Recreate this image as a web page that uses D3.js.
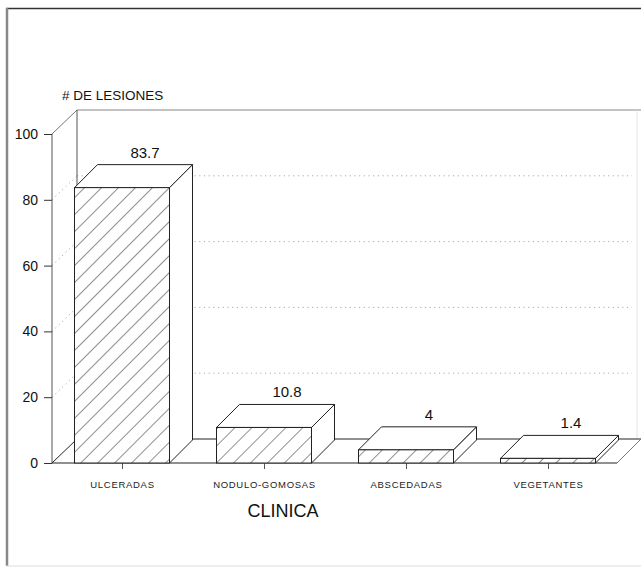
<!DOCTYPE html>
<html>
<head>
<meta charset="utf-8">
<script src="https://cdn.jsdelivr.net/npm/d3@7/dist/d3.min.js"></script>
<style>
  html, body { margin: 0; padding: 0; background: #fff; }
  svg { display: block; font-family: "Liberation Sans", Arial, Helvetica, sans-serif; }
</style>
</head>
<body>
<svg id="chart" width="641" height="569"></svg>
<script>
// Lesion counts by clinical form
const categories = ["ULCERADAS", "NODULO-GOMOSAS", "ABSCEDADAS", "VEGETANTES"];
const values = [83.7, 10.8, 4, 1.4];
const yTicks = [0, 20, 40, 60, 80, 100];
const gridTicks = [20, 40, 60, 80];
const yTitle = "# DE LESIONES";
const xTitle = "CLINICA";

const svg = d3.select("#chart");

// Outer frame
svg.append("line").attr("x1", 6).attr("x2", 641).attr("y1", 8.5).attr("y2", 8.5)
  .attr("stroke", "#333").attr("stroke-width", 1.5);
svg.append("line").attr("x1", 7).attr("x2", 7).attr("y1", 8).attr("y2", 566)
  .attr("stroke", "#888").attr("stroke-width", 2.5);
svg.append("line").attr("x1", 6).attr("x2", 641).attr("y1", 566).attr("y2", 566)
  .attr("stroke", "#ddd").attr("stroke-width", 1);

// Scales
const x = d3.scalePoint().domain(categories).range([122, 548]);
const y = d3.scaleLinear().domain([0, 100]).range([463, 134]);

const axisX = 52;          // front edge of the left wall
const wallDx = 25, wallDy = 24;   // depth of walls
const barDx = 23, barDy = 23;     // depth of bars
const barW = 95;
const rightFront = 617, rightBack = 641;

const edge = "#222";

// Hatch pattern for bar fronts
const defs = svg.append("defs");
defs.append("pattern")
  .attr("id", "hatch")
  .attr("patternUnits", "userSpaceOnUse")
  .attr("width", 12).attr("height", 12)
  .attr("patternTransform", "rotate(45)")
  .append("line")
  .attr("x1", 0).attr("y1", 0).attr("x2", 0).attr("y2", 12)
  .attr("stroke", "#333").attr("stroke-width", 1.1);

const walls = svg.append("g");

// Back wall top edge and right edge
walls.append("line")
  .attr("x1", axisX + wallDx).attr("x2", rightBack)
  .attr("y1", y(100) - wallDy).attr("y2", y(100) - wallDy)
  .attr("stroke", "#888").attr("stroke-width", 1.2);
walls.append("line")
  .attr("x1", 637).attr("x2", 637)
  .attr("y1", y(100) - wallDy).attr("y2", y(0) - wallDy)
  .attr("stroke", "#e4e4e4").attr("stroke-width", 1);

// Dotted gridlines on the back wall and the left wall
const grid = walls.append("g")
  .attr("stroke", "#aaa").attr("stroke-width", 1).attr("stroke-dasharray", "1.2,3.5");
grid.selectAll("line.back").data(gridTicks).join("line")
  .attr("class", "back")
  .attr("x1", axisX + wallDx).attr("x2", 632)
  .attr("y1", d => y(d) - wallDy).attr("y2", d => y(d) - wallDy);
grid.selectAll("line.side").data(gridTicks).join("line")
  .attr("class", "side")
  .attr("x1", axisX).attr("x2", axisX + wallDx)
  .attr("y1", d => y(d)).attr("y2", d => y(d) - wallDy);

// Left wall edges
walls.append("line").attr("x1", axisX).attr("x2", axisX).attr("y1", y(0)).attr("y2", y(100))
  .attr("stroke", "#555").attr("stroke-width", 1);
walls.append("line").attr("x1", axisX).attr("x2", axisX + wallDx).attr("y1", y(100)).attr("y2", y(100) - wallDy)
  .attr("stroke", "#777").attr("stroke-width", 1);
walls.append("line").attr("x1", axisX + wallDx).attr("x2", axisX + wallDx).attr("y1", y(100) - wallDy).attr("y2", y(0) - wallDy)
  .attr("stroke", "#555").attr("stroke-width", 1);
walls.append("line").attr("x1", axisX).attr("x2", axisX + wallDx).attr("y1", y(0)).attr("y2", y(0) - wallDy)
  .attr("stroke", edge).attr("stroke-width", 1);

// Floor
walls.append("line").attr("x1", axisX + wallDx).attr("x2", rightBack)
  .attr("y1", y(0) - wallDy).attr("y2", y(0) - wallDy)
  .attr("stroke", edge).attr("stroke-width", 1);
walls.append("line").attr("x1", axisX).attr("x2", rightFront)
  .attr("y1", y(0)).attr("y2", y(0))
  .attr("stroke", edge).attr("stroke-width", 1.2);
walls.append("line").attr("x1", rightFront).attr("x2", rightBack)
  .attr("y1", y(0)).attr("y2", y(0) - wallDy)
  .attr("stroke", "#777").attr("stroke-width", 1);

// Y axis
const yAxis = svg.append("g")
  .attr("transform", `translate(${axisX},0)`)
  .call(d3.axisLeft(y).tickValues(yTicks).tickSize(8).tickPadding(6).tickFormat(d3.format("d")));
yAxis.select(".domain").remove();
yAxis.selectAll(".tick line").attr("stroke", "#333");
yAxis.selectAll(".tick text").attr("font-size", 14).attr("fill", "#111")
  .attr("font-family", "'Liberation Sans', Arial, sans-serif");

// X axis ticks and category labels
const xAxis = svg.append("g")
  .attr("transform", `translate(0,${y(0)})`)
  .call(d3.axisBottom(x).tickSize(6).tickPadding(12));
xAxis.select(".domain").remove();
xAxis.selectAll(".tick line").attr("stroke", "#555");
xAxis.selectAll(".tick text").attr("font-size", 9.5).attr("fill", "#222")
  .attr("letter-spacing", 0.7)
  .attr("font-family", "'Liberation Sans', Arial, sans-serif");

// Bars
const bars = svg.append("g").selectAll("g.bar")
  .data(categories.map((c, i) => ({ c, v: values[i] })))
  .join("g").attr("class", "bar");

bars.each(function (d) {
  const g = d3.select(this);
  const x0 = x(d.c) - barW / 2, x1 = x(d.c) + barW / 2;
  const yt = y(d.v), yb = y(0);
  const pts = a => a.map(p => p.join(",")).join(" ");
  // side face
  g.append("polygon")
    .attr("points", pts([[x1, yb], [x1, yt], [x1 + barDx, yt - barDy], [x1 + barDx, yb - barDy]]))
    .attr("fill", "#fff").attr("stroke", edge).attr("stroke-width", 1).attr("stroke-linejoin", "round");
  // top face
  g.append("polygon")
    .attr("points", pts([[x0, yt], [x1, yt], [x1 + barDx, yt - barDy], [x0 + barDx, yt - barDy]]))
    .attr("fill", "#fff").attr("stroke", edge).attr("stroke-width", 1).attr("stroke-linejoin", "round");
  // front face
  g.append("rect").attr("x", x0).attr("y", yt).attr("width", barW).attr("height", yb - yt)
    .attr("fill", "#fff");
  g.append("rect").attr("x", x0).attr("y", yt).attr("width", barW).attr("height", yb - yt)
    .attr("fill", "url(#hatch)").attr("stroke", edge).attr("stroke-width", 1);
  // value label
  g.append("text")
    .attr("x", x(d.c) + barDx).attr("y", yt - barDy - 7)
    .attr("text-anchor", "middle").attr("font-size", 15).attr("fill", "#111")
    .text(d.v);
});

// Titles
svg.append("text").attr("x", 62).attr("y", 100)
  .attr("font-size", 13.5).attr("fill", "#111")
  .text(yTitle);
svg.append("text").attr("x", 283).attr("y", 517)
  .attr("text-anchor", "middle").attr("font-size", 18).attr("fill", "#111")
  .text(xTitle);
</script>
</body>
</html>
